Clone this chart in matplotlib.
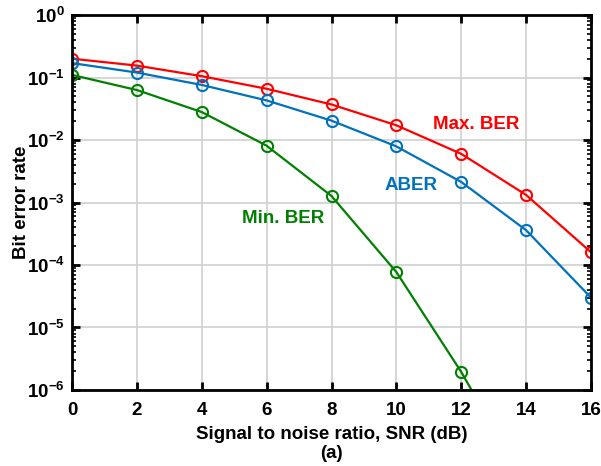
import numpy as np
import matplotlib
matplotlib.use("Agg")
import matplotlib.pyplot as plt
from matplotlib.ticker import FixedLocator, FuncFormatter, LogLocator, NullFormatter

plt.rcParams['font.family'] = ['Liberation Sans', 'DejaVu Sans']
plt.rcParams['font.weight'] = 'bold'
plt.rcParams['mathtext.fontset'] = 'custom'
plt.rcParams['mathtext.rm'] = 'Liberation Sans:bold'
plt.rcParams['mathtext.bf'] = 'Liberation Sans:bold'

# --- data
snr = [0, 2, 4, 6, 8, 10, 12, 14, 16]
max_ber = [0.2, 0.155, 0.105, 0.066, 0.037, 0.0172, 0.006, 0.00132, 1.6e-4]
aber = [0.17, 0.12, 0.076, 0.043, 0.0204, 0.0079, 0.00213, 3.6e-4, 3.0e-5]
min_ber = [0.11, 0.063, 0.028, 0.0081, 0.00127, 7.7e-5, 1.94e-6, 3e-8, 5e-10]

labels = ["Max. BER", "ABER", "Min. BER"]
xticks = [0, 2, 4, 6, 8, 10, 12, 14, 16]

fs = 13.5
fig = plt.figure(figsize=(6.01, 4.66), dpi=100)
ax = fig.add_axes([0.1198, 0.1631, 0.8636, 0.8047])

ax.plot(snr, max_ber, color='#FF0000', lw=1.6, marker='o', ms=8, mfc='none', mew=1.5)
ax.plot(snr, aber, color='#0072BD', lw=1.6, marker='o', ms=8, mfc='none', mew=1.5)
ax.plot(snr, min_ber, color='#008000', lw=1.6, marker='o', ms=8, mfc='none', mew=1.5)

ax.set_yscale('log')
ax.set_xlim(0, 16)
ax.set_ylim(1e-6, 1)
ax.xaxis.set_major_locator(FixedLocator(xticks))
ax.yaxis.set_major_locator(LogLocator(base=10, numticks=10))
ax.yaxis.set_minor_locator(LogLocator(base=10, subs=np.arange(2, 10), numticks=20))
ax.yaxis.set_minor_formatter(NullFormatter())
ax.yaxis.set_major_formatter(FuncFormatter(lambda v, p: r'$\mathbf{10^{%d}}$' % round(np.log10(v))))

ax.grid(True, which='major', color='#d0d0d0', lw=1.2)
ax.set_axisbelow(True)
ax.tick_params(which='both', direction='in', top=True, right=True, labelsize=fs)
ax.tick_params(which='major', length=6, width=2)
ax.tick_params(which='minor', length=3, width=1.2)
ax.tick_params(axis='x', pad=9)
ax.tick_params(axis='y', pad=5)
for s in ax.spines.values():
    s.set_linewidth(2)

ax.set_xlabel("Signal to noise ratio, SNR (dB)\n(a)", fontsize=fs, fontweight='bold', labelpad=5, linespacing=1.1)
ax.set_ylabel("Bit error rate", fontsize=fs, fontweight='bold', labelpad=-2)

ax.text(12.45, 0.0174, labels[0], color='#FF0000', fontsize=fs, fontweight='bold', ha='center', va='center')
ax.text(10.45, 0.00184, labels[1], color='#0072BD', fontsize=fs, fontweight='bold', ha='center', va='center')
ax.text(6.5, 5.6e-4, labels[2], color='#008000', fontsize=fs, fontweight='bold', ha='center', va='center')

fig.savefig("out.png", dpi=100)
